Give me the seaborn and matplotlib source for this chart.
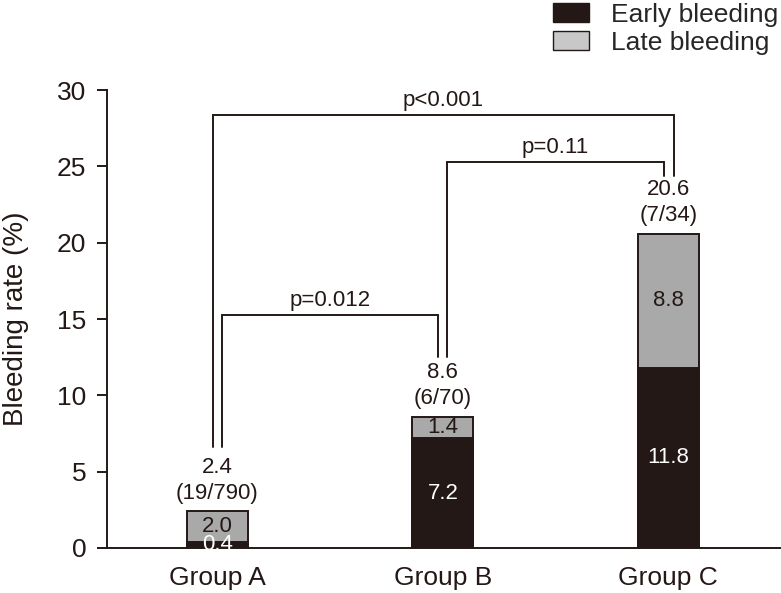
import numpy as np
import pandas as pd
import matplotlib
matplotlib.use("Agg")
import matplotlib.pyplot as plt
import seaborn as sns
from matplotlib.patches import Patch

groups = ["Group A", "Group B", "Group C"]
early = [0.4, 7.2, 11.8]
late = [2.0, 1.4, 8.8]
total = [2.4, 8.6, 20.6]
counts = ["(19/790)", "(6/70)", "(7/34)"]

# comparisons: (left group, right group, bracket height, left leg bottom, right leg bottom, label)
comparisons = [
    (0, 2, 28.4, 6.6, 24.4, "p<0.001"),
    (0, 1, 15.25, 6.6, 12.5, "p=0.012"),
    (1, 2, 25.3, 12.5, 24.4, "p=0.11"),
]
# small sideways shift of each bracket leg so they don't overlap
leg_offsets = {"p<0.001": (-0.02, 0.025), "p=0.012": (0.02, -0.02), "p=0.11": (0.02, -0.02)}

sns.set_style("ticks")
plt.rcParams["font.family"] = ["Liberation Sans", "DejaVu Sans"]

dark = "#231815"
gray = "#a9a9a9"

df = pd.DataFrame({"Group": groups, "Early": early, "Total": total})

fig = plt.figure(figsize=(7.81, 5.93), dpi=100)
ax = fig.add_axes([0.137, 0.0759, 0.863, 0.772])

sns.barplot(data=df, x="Group", y="Total", color=gray, width=0.27,
            edgecolor=dark, linewidth=1.4, saturation=1, ax=ax)
sns.barplot(data=df, x="Group", y="Early", color=dark, width=0.27,
            edgecolor=dark, linewidth=1.4, saturation=1, ax=ax)

for i in range(len(groups)):
    ax.text(i, early[i] + late[i] / 2, f"{late[i]:.1f}",
            ha="center", va="center", fontsize=16, color=dark)
    ax.text(i, max(early[i] / 2, 0.1), f"{early[i]:.1f}",
            ha="center", va="center", fontsize=16, color="white")
    ax.text(i, total[i] + 2.9, f"{total[i]:.1f}", ha="center", va="center",
            fontsize=16, color=dark)
    ax.text(i, total[i] + 1.2, counts[i], ha="center", va="center",
            fontsize=16, color=dark)

for a, b, h, ya, yb, label in comparisons:
    da, db = leg_offsets[label]
    xa, xb = a + da, b + db
    ax.plot([xa, xa, xb, xb], [ya, h, h, yb], color=dark, lw=1.4,
            clip_on=False, solid_joinstyle="miter")
    ax.text((xa + xb) / 2, h + 0.95, label, ha="center", va="center",
            fontsize=16, color=dark, clip_on=False)

ax.set_xlim(-0.49, 2.5)
ax.set_ylim(0, 30)
ax.set_yticks([0, 5, 10, 15, 20, 25, 30])
ax.set_xlabel("")
ax.set_ylabel("Bleeding rate (%)", fontsize=20, color=dark, labelpad=20)
ax.tick_params(axis="y", labelsize=19, colors=dark, direction="out",
               length=7, width=1.4, pad=8)
ax.tick_params(axis="x", labelsize=19, colors=dark, length=0, pad=13)
sns.despine(ax=ax)
for s in ["left", "bottom"]:
    ax.spines[s].set_color(dark)
    ax.spines[s].set_linewidth(1.4)

handles = [Patch(facecolor=dark, edgecolor=dark, label="Early bleeding"),
           Patch(facecolor="#c8c8c8", edgecolor=dark, label="Late bleeding")]
fig.legend(handles=handles, loc="upper right", bbox_to_anchor=(1.0, 1.0),
           frameon=False, fontsize=19, handlelength=1.36, handleheight=0.76,
           labelspacing=0.15, handletextpad=0.85, borderaxespad=0.0,
           borderpad=0.1)

fig.savefig("out.png", dpi=100)
